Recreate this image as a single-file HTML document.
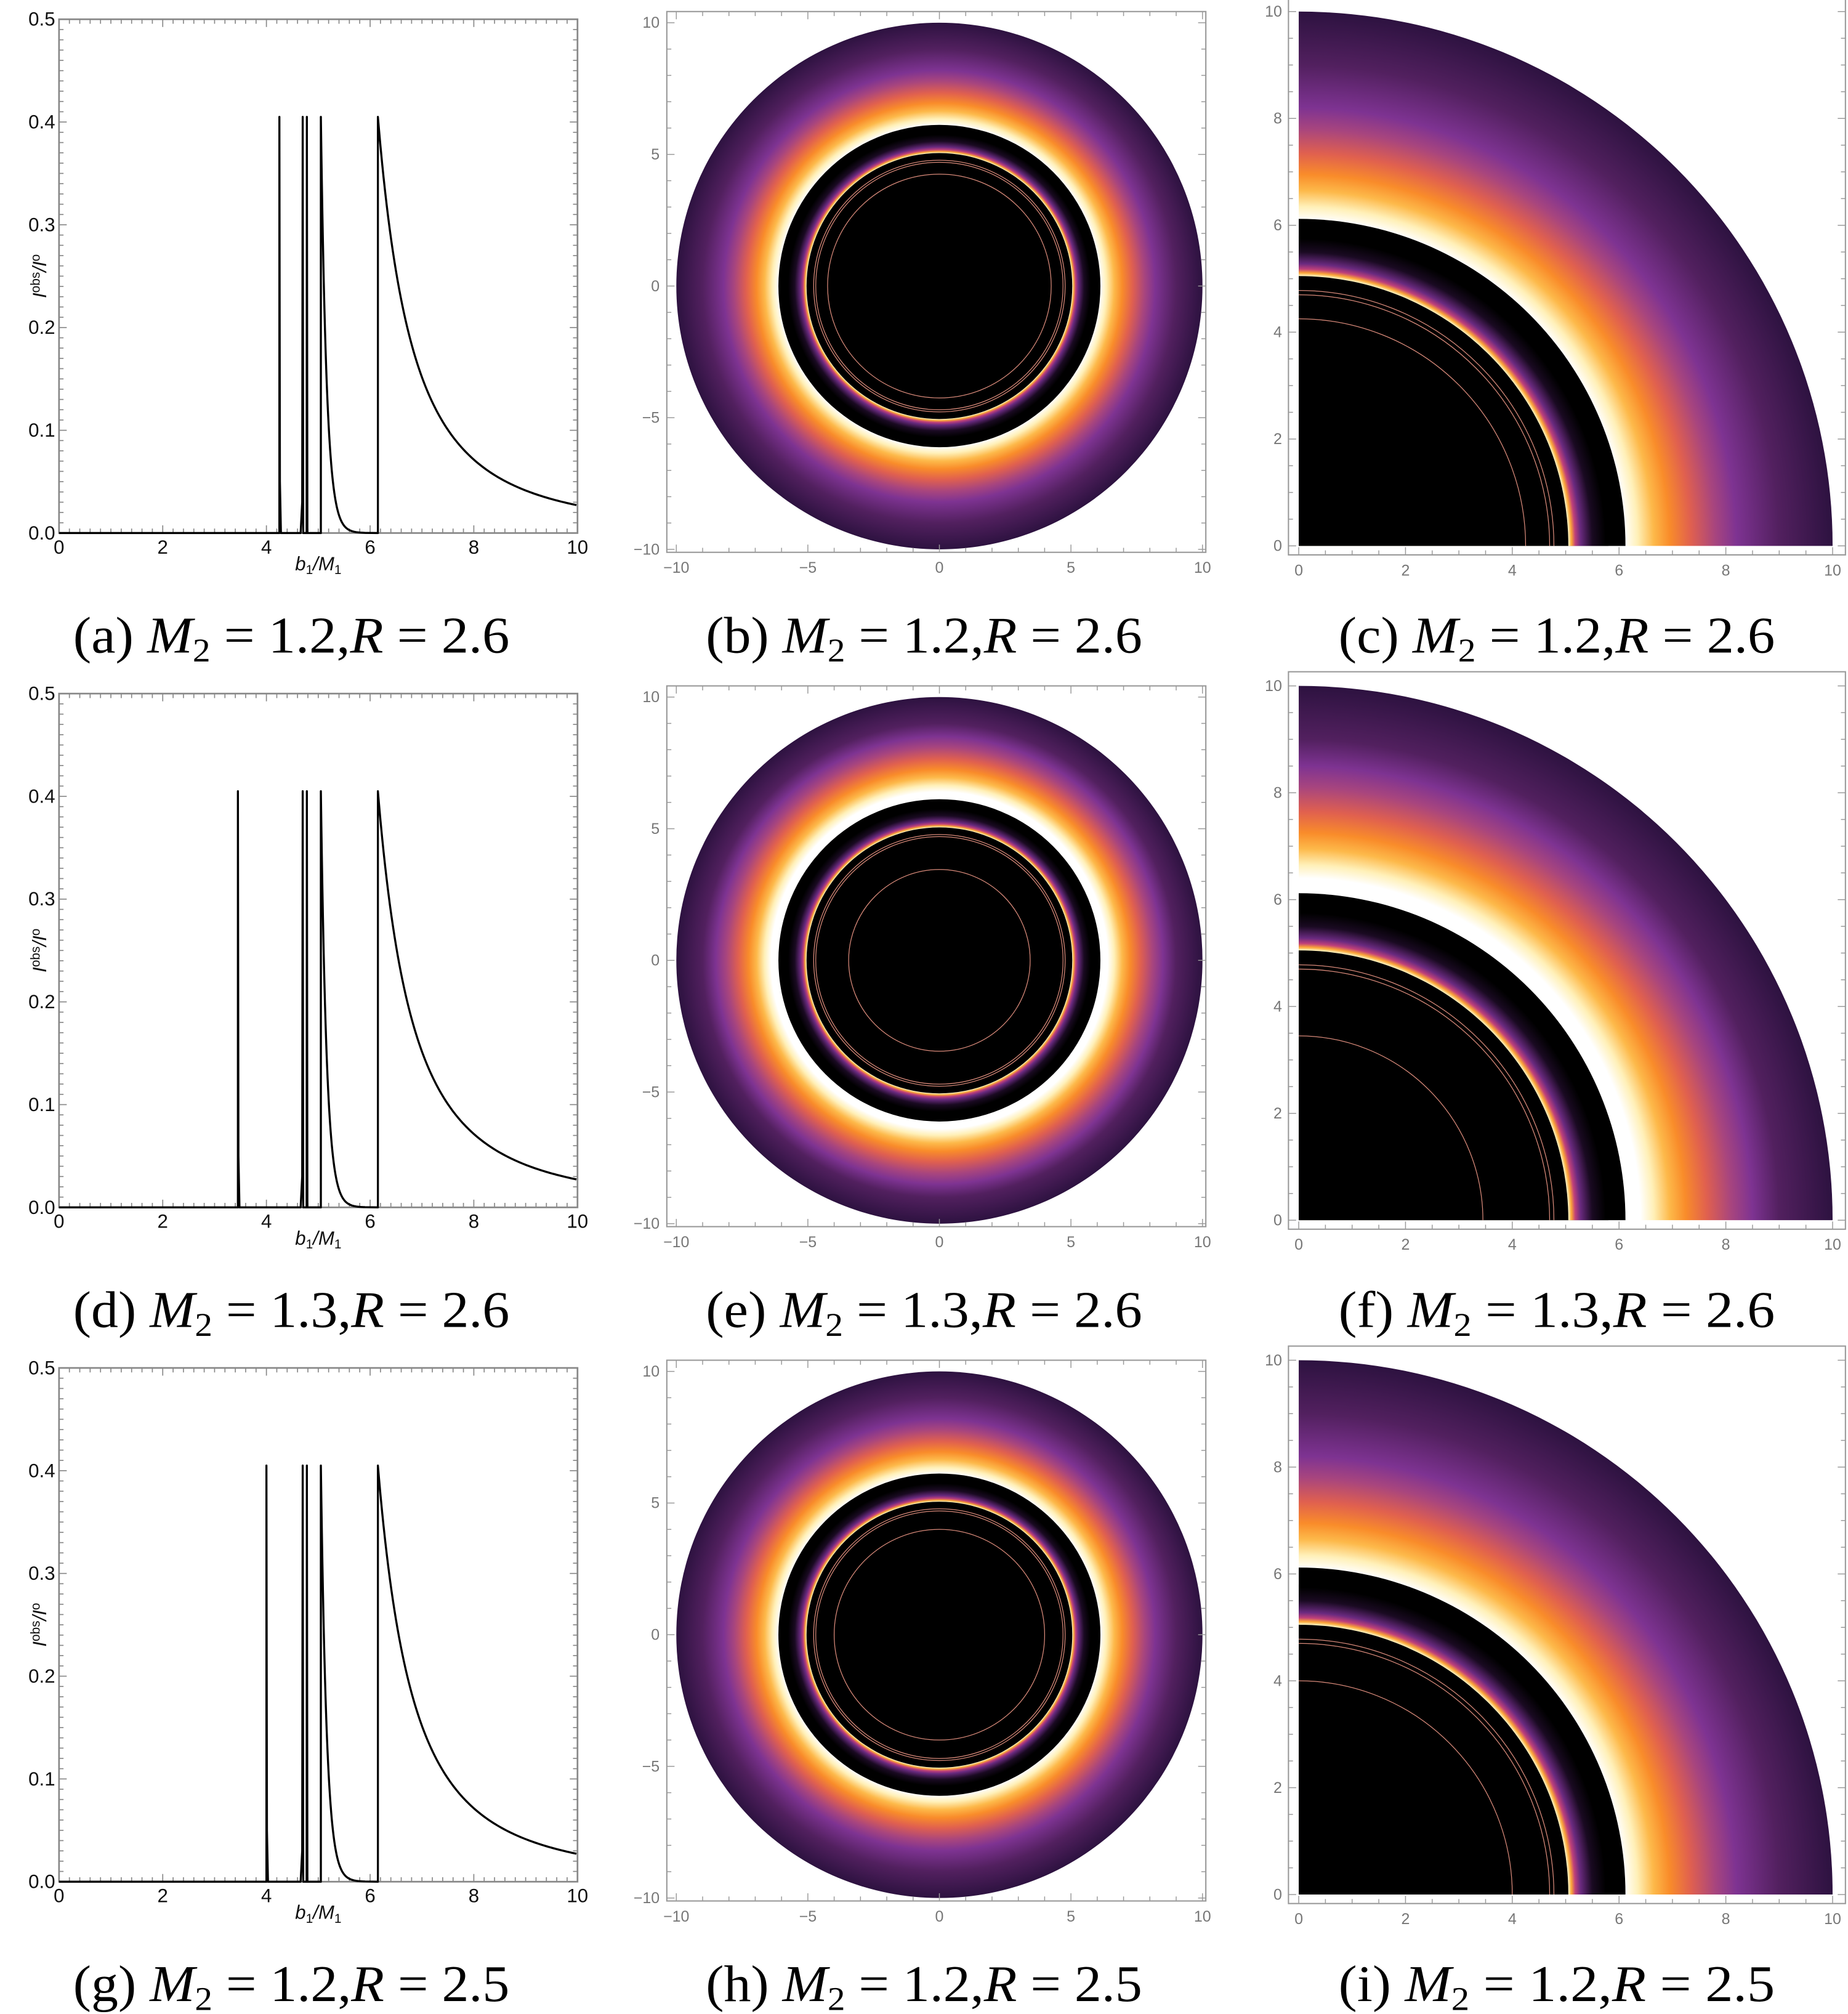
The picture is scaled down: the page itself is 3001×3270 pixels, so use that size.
<!DOCTYPE html>
<html><head><meta charset="utf-8">
<style>
html,body{margin:0;padding:0;background:#fff;overflow:hidden;}
svg{display:block;}
.tk{font-family:"Liberation Sans",sans-serif;font-size:15px;fill:#111;}
.tg{font-family:"Liberation Sans",sans-serif;font-size:12px;fill:#777;}
.cap{font-family:"Liberation Serif",serif;font-size:40px;fill:#000;}
</style></head>
<body>
<svg id="s" width="3001" height="3270" viewBox="0 0 1440 1568" preserveAspectRatio="none" xmlns="http://www.w3.org/2000/svg"></svg>
<script>
const S=document.getElementById('s');
let h='';
const rows=[{sp:4.25,cap:'1.2',R:'2.6',gap:false,rings:[4.25,4.7,4.78]},
            {sp:3.45,cap:'1.3',R:'2.6',gap:true,rings:[3.45,4.7,4.78]},
            {sp:4.0,cap:'1.2',R:'2.5',gap:false,rings:[4.0,4.7,4.78]}];
const lt=['a','b','c','d','e','f','g','h','i'];
function outerStops(gap){
  const sh=gap?0.03:0;
  const st=[[0.61+sh,'#ffffff'],[0.635+sh,'#fff0b8'],[0.665+sh,'#fdb94a'],[0.695+sh,'#f98c2a'],[0.735+sh,'#e0604f'],[0.78+sh,'#a8457e'],[0.82+sh,'#7e3392'],[0.9,'#52205f'],[1.0,'#2d1240']];
  return st.map(s=>`<stop offset="${s[0]}" stop-color="${s[1]}"/>`).join('');
}
let defs='<defs>';
function grads(id,cx,cy,r,gap){
  defs+=`<radialGradient id="o${id}" gradientUnits="userSpaceOnUse" cx="${cx}" cy="${cy}" r="${r}">${outerStops(gap)}</radialGradient>`;
  defs+=`<radialGradient id="n${id}" gradientUnits="userSpaceOnUse" cx="${cx}" cy="${cy}" r="${r}">
  <stop offset="0.505" stop-color="#fff8c8"/><stop offset="0.511" stop-color="#fca636"/><stop offset="0.518" stop-color="#c0407a"/><stop offset="0.528" stop-color="#6a2a80"/><stop offset="0.55" stop-color="#1a0a22"/><stop offset="0.575" stop-color="#000"/></radialGradient>`;
}
function disk(id,cx,cy,s,gap,rings){
  let o='';
  o+=`<circle cx="${cx}" cy="${cy}" r="${10*s}" fill="url(#o${id})"/>`;
  o+=`<circle cx="${cx}" cy="${cy}" r="${(gap?6.4:6.12)*s}" fill="${gap?'#fff':'#000'}"/>`;
  if(gap) o+=`<circle cx="${cx}" cy="${cy}" r="${6.12*s}" fill="#000"/>`;
  o+=`<circle cx="${cx}" cy="${cy}" r="${5.8*s}" fill="url(#n${id})"/>`;
  o+=`<circle cx="${cx}" cy="${cy}" r="${5.05*s}" fill="#000"/>`;
  rings.forEach(r=>{o+=`<circle cx="${cx}" cy="${cy}" r="${r*s}" fill="none" stroke="#d98a7a" stroke-width="0.6"/>`;});
  return o;
}
function caption(x,y,l,m,r){
  return `<text class="cap" x="${x-170}" y="${y}" textLength="340" lengthAdjust="spacingAndGlyphs">(${l}) <tspan font-style="italic">M</tspan><tspan font-size="26" dy="7">2</tspan><tspan dy="-7"> = ${m},</tspan><tspan font-style="italic">R</tspan> = ${r}</text>`;
}
rows.forEach((rw,i)=>{
  const dy=i*525;
  const x0=46,x1=450,yb=415+dy,yt=15+dy;
  const X=b=>x0+b*40.4, Y=v=>yb-v*800;
  h+=`<rect x="${x0}" y="${yt}" width="${x1-x0}" height="${yb-yt}" fill="none" stroke="#888" stroke-width="1.3"/>`;
  for(let k=0;k<=50;k++){const b=k*0.2;const L=(k%10==0)?6:3.5;
    h+=`<line x1="${X(b)}" y1="${yb}" x2="${X(b)}" y2="${yb-L}" stroke="#888" stroke-width="0.8"/><line x1="${X(b)}" y1="${yt}" x2="${X(b)}" y2="${yt+L}" stroke="#888" stroke-width="0.8"/>`;}
  for(let k=0;k<=50;k++){const v=k*0.01;const L=(k%10==0)?6:3.5;
    h+=`<line x1="${x0}" y1="${Y(v)}" x2="${x0+L}" y2="${Y(v)}" stroke="#888" stroke-width="0.8"/><line x1="${x1}" y1="${Y(v)}" x2="${x1-L}" y2="${Y(v)}" stroke="#888" stroke-width="0.8"/>`;}
  [0,2,4,6,8,10].forEach(b=>h+=`<text class="tk" x="${X(b)}" y="${yb+16}" text-anchor="middle">${b}</text>`);
  ['0.0','0.1','0.2','0.3','0.4','0.5'].forEach((t,k)=>h+=`<text class="tk" x="${x0-3}" y="${Y(k*0.1)+5}" text-anchor="end">${t}</text>`);
  h+=`<text class="tk" x="248" y="${yb+29}" text-anchor="middle" font-style="italic">b<tspan font-size="10" dy="3" font-style="normal">1</tspan><tspan dy="-3">/M</tspan><tspan font-size="10" dy="3" font-style="normal">1</tspan></text>`;
  h+=`<text class="tk" transform="translate(36,${215+dy}) rotate(-90)" text-anchor="middle" font-style="italic">I<tspan font-size="10" dy="-5" font-style="normal">obs</tspan><tspan dy="5">/I</tspan><tspan font-size="10" dy="-5" font-style="normal">o</tspan></text>`;
  let p=`M${X(0)},${Y(0)} L${X(rw.sp)},${Y(0)} L${X(rw.sp)},${Y(0.405)} L${X(rw.sp+0.01)},${Y(0.05)} L${X(rw.sp+0.03)},${Y(0)} `;
  p+=`L${X(4.66)},${Y(0)} L${X(4.69)},${Y(0.03)} L${X(4.7)},${Y(0.405)} L${X(4.71)},${Y(0)} L${X(4.775)},${Y(0)} L${X(4.78)},${Y(0.405)} L${X(4.79)},${Y(0)} `;
  p+=`L${X(5.05)},${Y(0)} L${X(5.05)},${Y(0.405)} `;
  for(let b=5.06;b<=5.9;b+=0.01){p+=`L${X(b).toFixed(2)},${Y(0.405*Math.exp(-(b-5.05)*9)).toFixed(2)} `;}
  p+=`L${X(6.15)},${Y(0)} L${X(6.15)},${Y(0.405)} `;
  for(let b=6.17;b<=10.001;b+=0.03){p+=`L${X(b).toFixed(2)},${Y(0.405*Math.pow(1.34/(b-4.81),2)).toFixed(2)} `;}
  h+=`<path d="${p}" fill="none" stroke="#000" stroke-width="1.6" stroke-linejoin="round"/>`;
  h+=caption(227,508+dy,lt[i*3],rw.cap,rw.R);

  const cx=732,cy=222.7+dy,s=20.5;
  grads('b'+i,cx,cy,10*s,rw.gap);
  h+=`<rect x="519.6" y="${9+dy}" width="420" height="421" fill="none" stroke="#999" stroke-width="1"/>`;
  h+=disk('b'+i,cx,cy,s,rw.gap,rw.rings);
  for(let k=-10;k<=10;k++){const L=(k%5==0)?6:3.5;
    h+=`<line x1="${cx+k*s}" y1="${430+dy}" x2="${cx+k*s}" y2="${430+dy-L}" stroke="#999" stroke-width="0.7"/><line x1="${cx+k*s}" y1="${9+dy}" x2="${cx+k*s}" y2="${9+dy+L}" stroke="#999" stroke-width="0.7"/>`;
    h+=`<line x1="519.6" y1="${cy-k*s}" x2="${519.6+L}" y2="${cy-k*s}" stroke="#999" stroke-width="0.7"/><line x1="939.6" y1="${cy-k*s}" x2="${939.6-L}" y2="${cy-k*s}" stroke="#999" stroke-width="0.7"/>`;}
  [-10,-5,0,5,10].forEach(k=>{
    h+=`<text class="tg" x="${cx+k*s}" y="${446+dy}" text-anchor="middle">${k<0?'\u2212'+(-k):k}</text>`;
    h+=`<text class="tg" x="514" y="${cy-k*s+4}" text-anchor="end">${k<0?'\u2212'+(-k):k}</text>`;});
  h+=caption(720,508+dy,lt[i*3+1],rw.cap,rw.R);

  const qx=1012,qy=425+dy,qs=41.6;
  grads('c'+i,qx,qy,10*qs,rw.gap);
  h+=`<clipPath id="q${i}"><rect x="${qx}" y="${qy-10*qs-2}" width="${10*qs+2}" height="${10*qs+2}"/></clipPath>`;
  h+=`<g clip-path="url(#q${i})">${disk('c'+i,qx,qy,qs,rw.gap,rw.rings)}</g>`;
  h+=`<rect x="1004" y="${-2+dy}" width="434" height="434" fill="none" stroke="#999" stroke-width="1"/>`;
  for(let k=0;k<=20;k++){const v=k*0.5;const L=(k%4==0)?6:3.5;
    h+=`<line x1="${qx+v*qs}" y1="${432+dy}" x2="${qx+v*qs}" y2="${432+dy-L}" stroke="#999" stroke-width="0.7"/>`;
    h+=`<line x1="1004" y1="${qy-v*qs}" x2="${1004+L}" y2="${qy-v*qs}" stroke="#999" stroke-width="0.7"/><line x1="1438" y1="${qy-v*qs}" x2="${1438-L}" y2="${qy-v*qs}" stroke="#999" stroke-width="0.7"/>`;}
  [0,2,4,6,8,10].forEach(k=>{
    h+=`<text class="tg" x="${qx+k*qs}" y="${448+dy}" text-anchor="middle">${k}</text>`;
    h+=`<text class="tg" x="999" y="${qy-k*qs+4}" text-anchor="end">${k}</text>`;});
  h+=caption(1213,508+dy,lt[i*3+2],rw.cap,rw.R);
});
defs+='</defs>';
S.innerHTML=defs+h;
</script>
</body></html>
